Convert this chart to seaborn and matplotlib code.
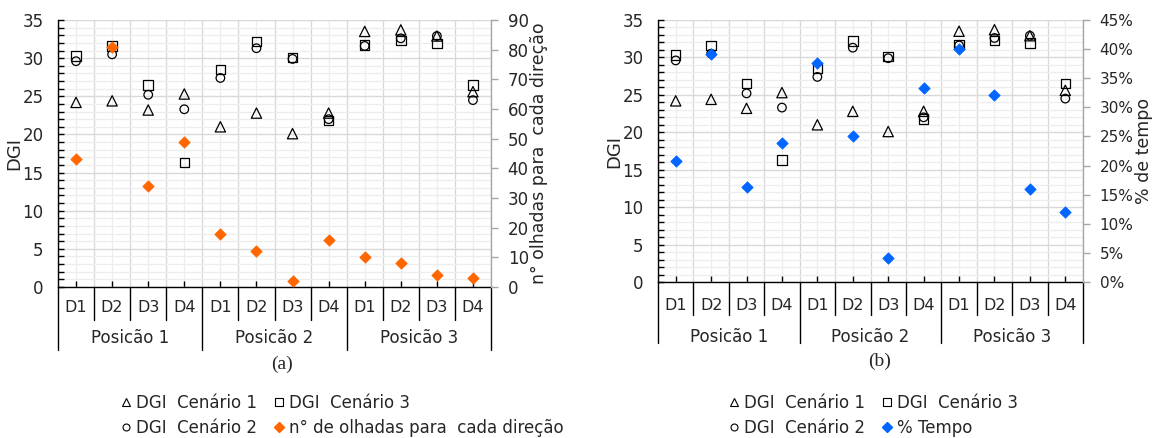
import numpy as np
import pandas as pd
import matplotlib
matplotlib.use("Agg")
import matplotlib.pyplot as plt
from matplotlib.lines import Line2D
from matplotlib.ticker import MultipleLocator, FixedLocator, PercentFormatter, NullFormatter
import seaborn as sns

# ---- data -------------------------------------------------------------
direcoes = ["D1", "D2", "D3", "D4"]
posicoes = ["Posicão 1", "Posicão 2", "Posicão 3"]

dgi_cenario1 = [24.2, 24.4, 23.2, 25.3, 21.0, 22.8, 20.1, 22.8, 33.5, 33.7, 32.9, 25.6]
dgi_cenario2 = [29.6, 30.5, 25.2, 23.3, 27.4, 31.3, 29.9, 22.0, 31.6, 32.6, 32.9, 24.5]
dgi_cenario3 = [30.3, 31.6, 26.5, 16.3, 28.5, 32.2, 30.1, 21.8, 31.7, 32.3, 31.9, 26.5]

olhadas = [43, 81, 34, 49, 18, 12, 2, 16, 10, 8, 4, 3]
tempo_pct = [0.207, 0.392, 0.164, 0.238, 0.376, 0.251, 0.042, 0.334, 0.401, 0.321, 0.160, 0.120]

# ---- style ------------------------------------------------------------
sns.set_style("white")
plt.rcParams["font.family"] = ["DejaVu Sans"]
plt.rcParams["axes.linewidth"] = 1.0

W, H = 1153, 438
fig = plt.figure(figsize=(W / 100, H / 100), dpi=100)

n = len(direcoes) * len(posicoes)
df = pd.DataFrame({
    "pos": np.arange(n),
    "c1": dgi_cenario1,
    "c2": dgi_cenario2,
    "c3": dgi_cenario3,
    "olhadas": olhadas,
    "tempo": tempo_pct,
})

GRID_MAJ = "#d9d9d9"
GRID_MIN = "#ededed"
ORANGE = "#ff6600"
BLUE = "#0066ff"
FS_TICK = 12
FS_CAT = 11.5


def px_axes(left, right, top, bottom):
    return fig.add_axes([left / W, 1 - bottom / H, (right - left) / W, (bottom - top) / H])


def draw_panel(ax, sec_col, sec_color, sec_ylim, sec_step, sec_label, sec_fmt,
               sec_label_x, dgi_label_x, cat_drop, pos_drop, cat_text_y, pos_text_y,
               sec_tick_fs):
    # DGI scenarios
    sns.scatterplot(data=df, x="pos", y="c1", marker="^", s=55, color="none",
                    edgecolor="black", linewidth=0.9, ax=ax, zorder=3)
    sns.scatterplot(data=df, x="pos", y="c2", marker="o", s=38, color="none",
                    edgecolor="black", linewidth=0.9, ax=ax, zorder=3)
    sns.scatterplot(data=df, x="pos", y="c3", marker="s", s=46, color="none",
                    edgecolor="black", linewidth=0.9, ax=ax, zorder=3)

    ax.set_xlim(-0.5, n - 0.5)
    ax.set_ylim(0, 35)
    ax.yaxis.set_major_locator(MultipleLocator(5))
    ax.yaxis.set_minor_locator(MultipleLocator(1))
    ax.xaxis.set_major_locator(FixedLocator(np.arange(-0.5, n, 1.0)))
    ax.xaxis.set_minor_locator(FixedLocator(np.arange(n)))
    ax.xaxis.set_major_formatter(NullFormatter())
    ax.set_axisbelow(True)
    ax.grid(which="major", color=GRID_MAJ, lw=1.0)
    ax.grid(which="minor", color=GRID_MIN, lw=0.9)

    ax.tick_params(axis="y", which="both", direction="in", color="black",
                   labelsize=FS_TICK, pad=10.5, left=True, right=False)
    ax.tick_params(axis="y", which="major", length=4, width=1)
    ax.tick_params(axis="y", which="minor", length=4, width=1)
    ax.tick_params(axis="x", which="major", length=0)
    ax.tick_params(axis="x", which="minor", direction="in", length=4, width=1,
                   color="black", bottom=True)
    for side in ("top", "right"):
        ax.spines[side].set_visible(False)
    for side in ("left", "bottom"):
        ax.spines[side].set_color("black")
        ax.spines[side].set_linewidth(1.0)

    ax.set_xlabel("")
    ax.set_ylabel("DGI", fontsize=13, labelpad=0)
    ax.yaxis.set_label_coords(dgi_label_x, 0.5)

    # secondary axis
    ax2 = ax.twinx()
    sns.scatterplot(data=df, x="pos", y=sec_col, marker="D", s=34, color=sec_color,
                    edgecolor=sec_color, linewidth=0.5, ax=ax2, zorder=4)
    ax2.set_xlim(-0.5, n - 0.5)
    ax2.set_ylim(*sec_ylim)
    ax2.yaxis.set_major_locator(MultipleLocator(sec_step))
    if sec_fmt is not None:
        ax2.yaxis.set_major_formatter(sec_fmt)
    ax2.grid(False)
    for side in ("top", "left", "bottom"):
        ax2.spines[side].set_visible(False)
    ax2.spines["right"].set_color("#a6a6a6")
    ax2.spines["right"].set_linewidth(1.0)
    ax2.tick_params(axis="y", which="major", direction="out", length=5, width=1,
                    color="#a6a6a6", labelsize=sec_tick_fs, pad=7, right=True)
    ax2.set_xlabel("")
    ax2.set_ylabel(sec_label, fontsize=12.5, rotation=90, labelpad=0)
    ax2.yaxis.set_label_coords(sec_label_x, 0.5)

    # two-level category axis
    tr = ax.get_xaxis_transform()
    for b in np.arange(-0.5, n, 1.0):
        is_group = abs(((b + 0.5) % len(direcoes))) < 1e-9
        drop = pos_drop if is_group else cat_drop
        ax.plot([b, b], [0, -drop], transform=tr, color="black", lw=1.0,
                clip_on=False, zorder=5)
    for i in range(n):
        ax.text(i, -cat_text_y, direcoes[i % len(direcoes)], transform=tr,
                ha="center", va="center", fontsize=FS_CAT)
    for g, name in enumerate(posicoes):
        centre = g * len(direcoes) + (len(direcoes) - 1) / 2
        ax.text(centre, -pos_text_y, name, transform=tr,
                ha="center", va="center", fontsize=12)
    return ax2


# ---- panel (a) --------------------------------------------------------
ax_a = px_axes(58, 491, 20, 287)
h_a = 267
draw_panel(ax_a, "olhadas", ORANGE, (0, 90), 10, "n° olhadas para  cada direção", None,
           sec_label_x=(530 - 58) / 433, dgi_label_x=(23 - 58) / 433,
           cat_drop=33 / h_a, pos_drop=63 / h_a,
           cat_text_y=21 / h_a, pos_text_y=51 / h_a, sec_tick_fs=FS_TICK)

# ---- panel (b) --------------------------------------------------------
ax_b = px_axes(658, 1083, 20, 282)
h_b = 262
draw_panel(ax_b, "tempo", BLUE, (0, 0.45), 0.05, "% de tempo",
           PercentFormatter(xmax=1, decimals=0),
           sec_label_x=(1135 - 658) / 425, dgi_label_x=(623 - 658) / 425,
           cat_drop=33 / h_b, pos_drop=61 / h_b,
           cat_text_y=23 / h_b, pos_text_y=55 / h_b, sec_tick_fs=11)

# ---- captions ---------------------------------------------------------
fig.text(282 / W, 1 - 364 / H, "(a)", ha="center", va="center",
         fontsize=14, family="Liberation Serif")
fig.text(880 / W, 1 - 361 / H, "(b)", ha="center", va="center",
         fontsize=14, family="Liberation Serif")

# ---- legends ----------------------------------------------------------
def hollow(marker, ms):
    return Line2D([], [], ls="none", marker=marker, ms=ms, mfc="none",
                  mec="black", mew=0.8)


def legend(handles, labels, x_px, y_px):
    fig.legend(handles, labels, loc="upper left",
               bbox_to_anchor=(x_px / W, 1 - y_px / H), ncol=2, frameon=False,
               fontsize=12, handlelength=0.6, handletextpad=0.3,
               columnspacing=1.0, labelspacing=0.42, borderpad=0,
               borderaxespad=0)


legend([hollow("^", 5.5), hollow("o", 5), hollow("s", 5.5),
        Line2D([], [], ls="none", marker="D", ms=5, mfc=ORANGE, mec=ORANGE)],
       ["DGI  Cenário 1", "DGI  Cenário 2", "DGI  Cenário 3",
        "n° de olhadas para  cada direção"],
       121, 394)

legend([hollow("^", 5.5), hollow("o", 5), hollow("s", 5.5),
        Line2D([], [], ls="none", marker="D", ms=5, mfc=BLUE, mec=BLUE)],
       ["DGI  Cenário 1", "DGI  Cenário 2", "DGI  Cenário 3", "% Tempo"],
       729, 394)

fig.savefig("out.png", dpi=100)
